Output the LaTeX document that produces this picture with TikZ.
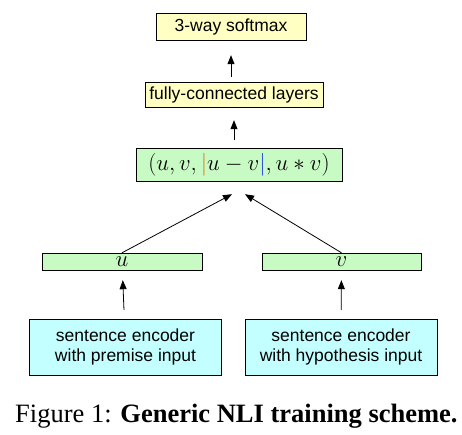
\documentclass[tikz,border=0pt]{standalone}
\usepackage{amsmath}
\usepackage{graphicx}
\usepackage{fontspec}
\setmainfont{Liberation Serif}
\setsansfont{Liberation Sans}
\usepackage{tikz}
\usetikzlibrary{arrows.meta}
\usepackage{xcolor}

\definecolor{boxyellow}{RGB}{255,255,196}
\definecolor{boxgreen}{RGB}{200,250,195}
\definecolor{boxcyan}{RGB}{196,255,255}
\definecolor{barorange}{RGB}{220,120,20}
\definecolor{barblue}{RGB}{30,60,230}

\newcommand{\bigmath}[1]{\scalebox{1.32}{$#1$}}

\begin{document}
\begin{tikzpicture}[x=1pt, y=-1pt,
    block/.style={rectangle, draw, inner sep=0pt, align=center,
        font=\fontsize{17.5}{20}\sffamily},
    softbox/.style={block, fill=boxyellow},
    vecbox/.style={block, fill=boxgreen},
    encbox/.style={block, fill=boxcyan, minimum width=192pt, minimum height=56pt},
    arrow/.style={-{Triangle[length=9pt,width=7pt]}, line width=0.8pt}
]
\useasboundingbox (0,0) rectangle (462,434);

% Output layer
\node[softbox, minimum width=150pt, minimum height=27pt] (softmax) at (231,26.5) {3-way softmax};

% Classifier
\node[softbox, minimum width=178pt, minimum height=25pt] (fc) at (234,94.5) {fully-connected layers};

% Combined features
\node[vecbox, minimum width=206pt, minimum height=33pt] (tuple) at (239,164.5)
    {\bigmath{(u, v, \textcolor{barorange}{|}u - v\textcolor{barblue}{|}, u * v)}};

% Sentence embeddings
\node[vecbox, minimum width=160pt, minimum height=17pt] (u) at (122,261.5) {\bigmath{u}};
\node[vecbox, minimum width=159pt, minimum height=17pt] (v) at (341.5,261.5) {\bigmath{v}};

% Encoders
\node[encbox] (encP) at (125.5,347) {sentence encoder\\with premise input};
\node[encbox] (encH) at (341,347) {sentence encoder\\with hypothesis input};

% Caption
\node[font=\fontsize{26.5}{30}\selectfont, anchor=base west, inner sep=0pt] (caption) at (15,422.5)
    {Figure 1: \textbf{Generic NLI training scheme.}};

% Arrows
\draw[arrow, shorten <=9pt, shorten >=10pt] (encP) -- (u);
\draw[arrow, shorten <=9pt, shorten >=10pt] (encH) -- (v);
\draw[arrow] (u.north) -- ([xshift=-7pt, yshift=-13pt]tuple.south);
\draw[arrow] (v.north) -- ([xshift=6pt, yshift=-13pt]tuple.south);
\draw[arrow, shorten <=8pt, shorten >=13pt] (tuple.north -| fc.south) -- (fc.south);
\draw[arrow, shorten <=5pt, shorten >=15pt] (fc.north -| softmax.south) -- (softmax.south);

\end{tikzpicture}
\end{document}
